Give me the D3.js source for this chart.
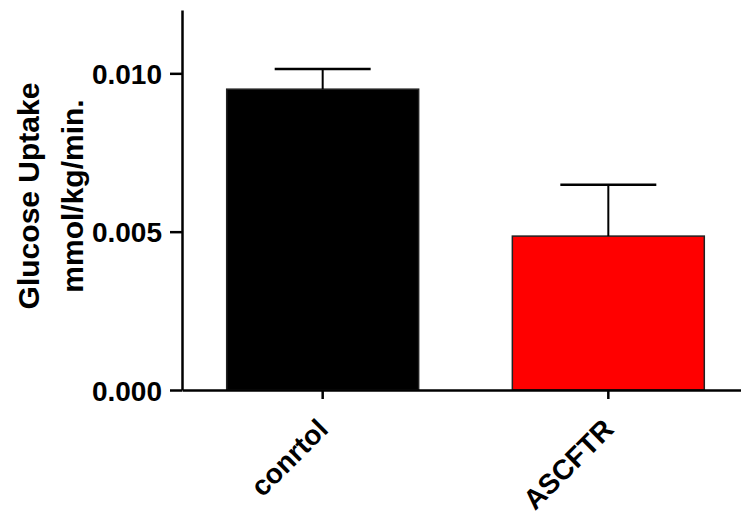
<!DOCTYPE html>
<html>
<head>
<meta charset="utf-8">
<script src="https://cdn.jsdelivr.net/npm/d3@7"></script>
<style>
  html, body { margin: 0; padding: 0; background: #fff; }
  svg { display: block; }
  text { font-family: "Liberation Sans", Arial, sans-serif; font-weight: bold; fill: #000; }
</style>
</head>
<body>
<svg id="chart" width="741" height="515"></svg>
<script>
// Group names, mean uptake and SEM per group
const groups = ["conrtol", "ASCFTR"];
const means = [0.0095, 0.00486];
const sems = [0.00064, 0.00162];
const fills = ["#000000", "#ff0000"];
const yTicks = [0, 0.005, 0.010];
const yTitle = ["Glucose Uptake", "mmol/kg/min."];

const svg = d3.select("#chart");
const x0 = 182, yBase = 390;

const y = d3.scaleLinear().domain([0, 0.012]).range([yBase, 10]);
const x = d3.scaleBand().domain(groups).range([x0, 749])
  .paddingInner(0.328).paddingOuter(0.1565);

// Bars
svg.selectAll("rect.bar").data(groups).join("rect")
  .attr("class", "bar")
  .attr("x", d => x(d))
  .attr("width", x.bandwidth())
  .attr("y", (d, i) => y(means[i]))
  .attr("height", (d, i) => yBase - y(means[i]))
  .attr("fill", (d, i) => fills[i])
  .attr("stroke", "#222")
  .attr("stroke-width", 1.5);

// Upward error bars (mean + SEM)
const eb = svg.selectAll("g.err").data(groups).join("g").attr("class", "err");
eb.append("line")
  .attr("x1", d => x(d) + x.bandwidth() / 2)
  .attr("x2", d => x(d) + x.bandwidth() / 2)
  .attr("y1", (d, i) => y(means[i]))
  .attr("y2", (d, i) => y(means[i] + sems[i]))
  .attr("stroke", "#000").attr("stroke-width", 2);
eb.append("line")
  .attr("x1", d => x(d) + x.bandwidth() / 4)
  .attr("x2", d => x(d) + x.bandwidth() * 3 / 4)
  .attr("y1", (d, i) => y(means[i] + sems[i]))
  .attr("y2", (d, i) => y(means[i] + sems[i]))
  .attr("stroke", "#000").attr("stroke-width", 2.5);

// Y axis
const yAxis = svg.append("g").attr("transform", `translate(${x0},0)`)
  .call(d3.axisLeft(y).tickValues(yTicks).tickFormat(d3.format(".3f"))
    .tickSizeInner(12).tickSizeOuter(0).tickPadding(8));
yAxis.select(".domain").attr("stroke-width", 2.5);
yAxis.selectAll(".tick line").attr("stroke-width", 2.5);
yAxis.selectAll(".tick text").style("font-size", "28px").attr("dy", "0.36em");

// X axis
const xAxis = svg.append("g").attr("transform", `translate(0,${yBase})`)
  .call(d3.axisBottom(x).tickSizeInner(9).tickSizeOuter(0));
xAxis.select(".domain").attr("stroke-width", 2.5);
xAxis.selectAll(".tick line").attr("stroke-width", 2.5);
xAxis.selectAll(".tick text")
  .style("font-size", "28px")
  .attr("text-anchor", "end")
  .attr("x", 0).attr("y", 0).attr("dy", 0)
  .attr("transform", "translate(7,41) rotate(-45)");

// Y axis title
const title = svg.append("text")
  .attr("transform", `translate(0,${(yBase + 10) / 2 - 4}) rotate(-90)`)
  .attr("text-anchor", "middle")
  .style("font-size", "30px");
title.selectAll("tspan").data(yTitle).join("tspan")
  .attr("x", 0)
  .attr("y", (d, i) => 39 + i * 44)
  .text(d => d);
</script>
</body>
</html>
